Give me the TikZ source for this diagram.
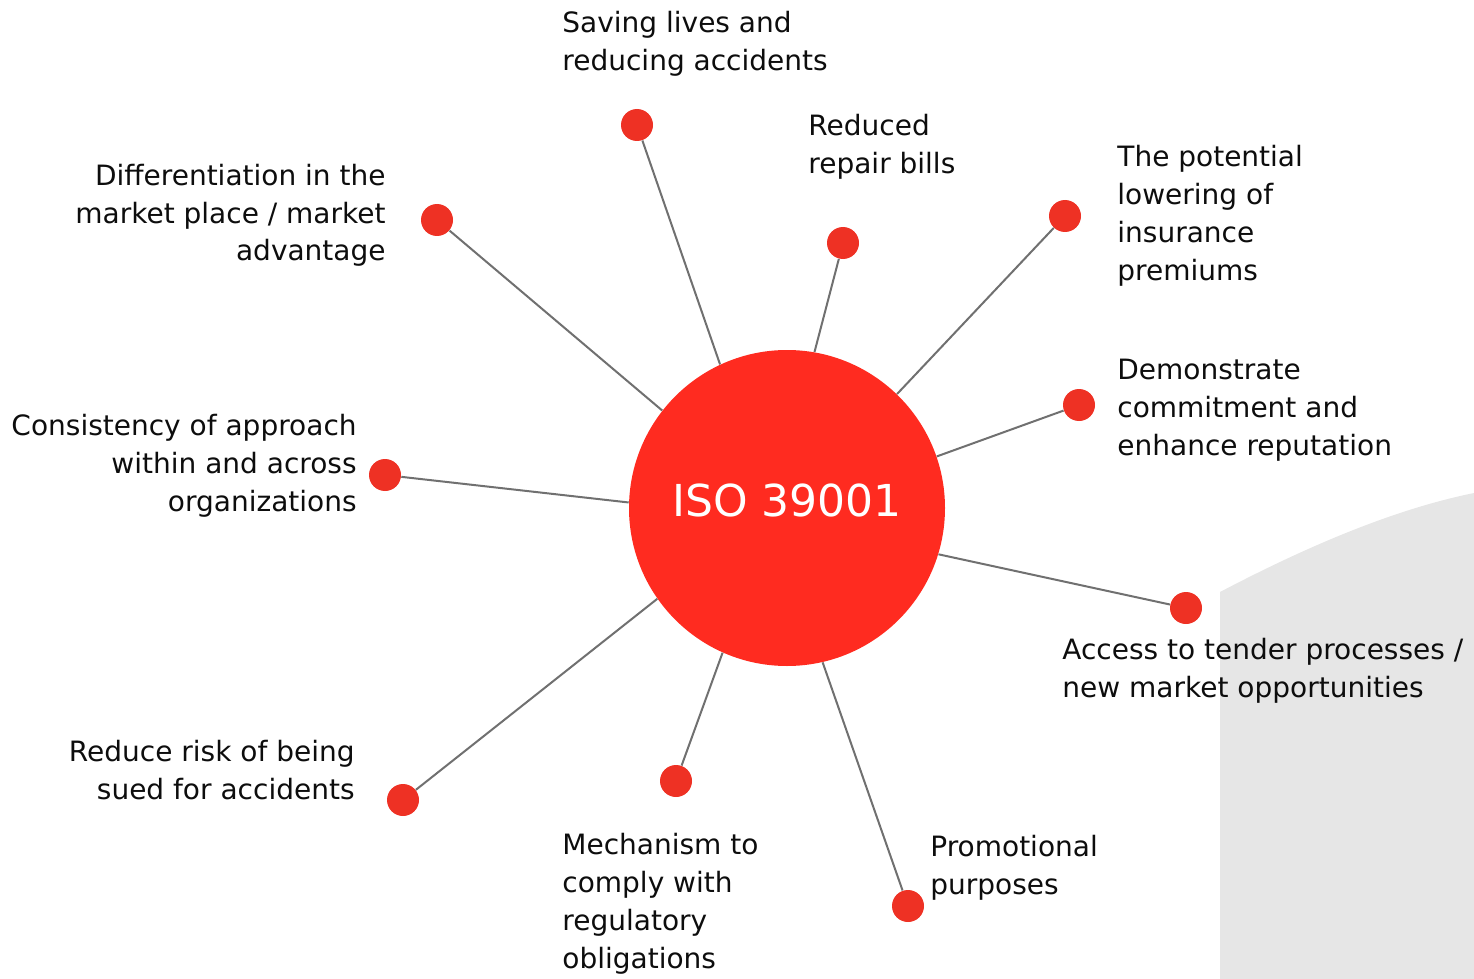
\documentclass[tikz,border=0pt]{standalone}
\usepackage{fontspec}
\setmainfont{DejaVu Sans}
\usepackage{tikz}
\definecolor{isored}{HTML}{FF2B20}
\definecolor{dotred}{HTML}{EE3124}
\definecolor{spokegray}{HTML}{707070}
\definecolor{shadegray}{HTML}{E6E6E6}

\begin{document}
\begin{tikzpicture}[x=0.5pt,y=-0.5pt]
\tikzstyle{dot}=[circle,fill=dotred,inner sep=0pt,minimum size=16pt];
\tikzstyle{lbl}=[inner sep=0pt,font=\fontsize{14}{19}\selectfont,text=black!95];
\tikzstyle{lft}=[lbl,align=left,anchor=base west];
\tikzstyle{rgt}=[lbl,align=right,anchor=base east];
\tikzstyle{spoke}=[draw=spokegray,line width=1pt];
\useasboundingbox (0,0) rectangle (1474,979);
% grey backdrop
    \fill[shadegray] (1220,979) -- (1220,592) .. controls (1300,550) and (1390,510) .. (1474,493) -- (1474,979) -- cycle;
% hub
    \node[circle,fill=isored,inner sep=0pt,minimum size=158pt,text=white,
          font=\fontsize{22}{26}\selectfont,text depth=8pt] (iso) at (787,508) {ISO 39001};
% dots
    \node[dot] (d1) at (637,125) {};
    \node[dot] (d2) at (843,243) {};
    \node[dot] (d3) at (1065,216) {};
    \node[dot] (d4) at (1079,405) {};
    \node[dot] (d5) at (1186,608) {};
    \node[dot] (d6) at (908,906) {};
    \node[dot] (d7) at (676,781) {};
    \node[dot] (d8) at (403,800) {};
    \node[dot] (d9) at (385,475) {};
    \node[dot] (d10) at (437,220) {};
% spokes
    \draw[spoke] (d1) -- (iso.115);
    \draw[spoke] (d2) -- (iso.80);
    \draw[spoke] (d3) -- (iso.46);
    \draw[spoke] (d4) -- (iso.19);
    \draw[spoke] (d5) -- (iso.-17);
    \draw[spoke] (d6) -- (iso.-77);
    \draw[spoke] (d7) -- (iso.-114);
    \draw[spoke] (d8) -- (iso.215);
    \draw[spoke] (d9) -- (iso.178);
    \draw[spoke] (d10) -- (iso.142);
% labels (placed at the baseline of their last line)
    \node[lft] (t1) at (562,71) {Saving lives and\\reducing accidents};
    \node[lft] (t2) at (808,174) {Reduced\\repair bills};
    \node[lft] (t3) at (1117,280) {The potential\\lowering of\\insurance\\premiums};
    \node[lft] (t4) at (1117,455) {Demonstrate\\commitment and\\enhance reputation};
    \node[lft] (t5) at (1062,697) {Access to tender processes /\\new market opportunities};
    \node[lft] (t6) at (930,894) {Promotional\\purposes};
    \node[lft] (t7) at (562,968) {Mechanism to\\comply with\\regulatory\\obligations};
    \node[rgt] (t8) at (355,799) {Reduce risk of being\\sued for accidents};
    \node[rgt] (t9) at (357,511) {Consistency of approach\\within and across\\organizations};
    \node[rgt] (t10) at (386,261) {Differentiation in the\\market place / market\\advantage};
\end{tikzpicture}
\end{document}
